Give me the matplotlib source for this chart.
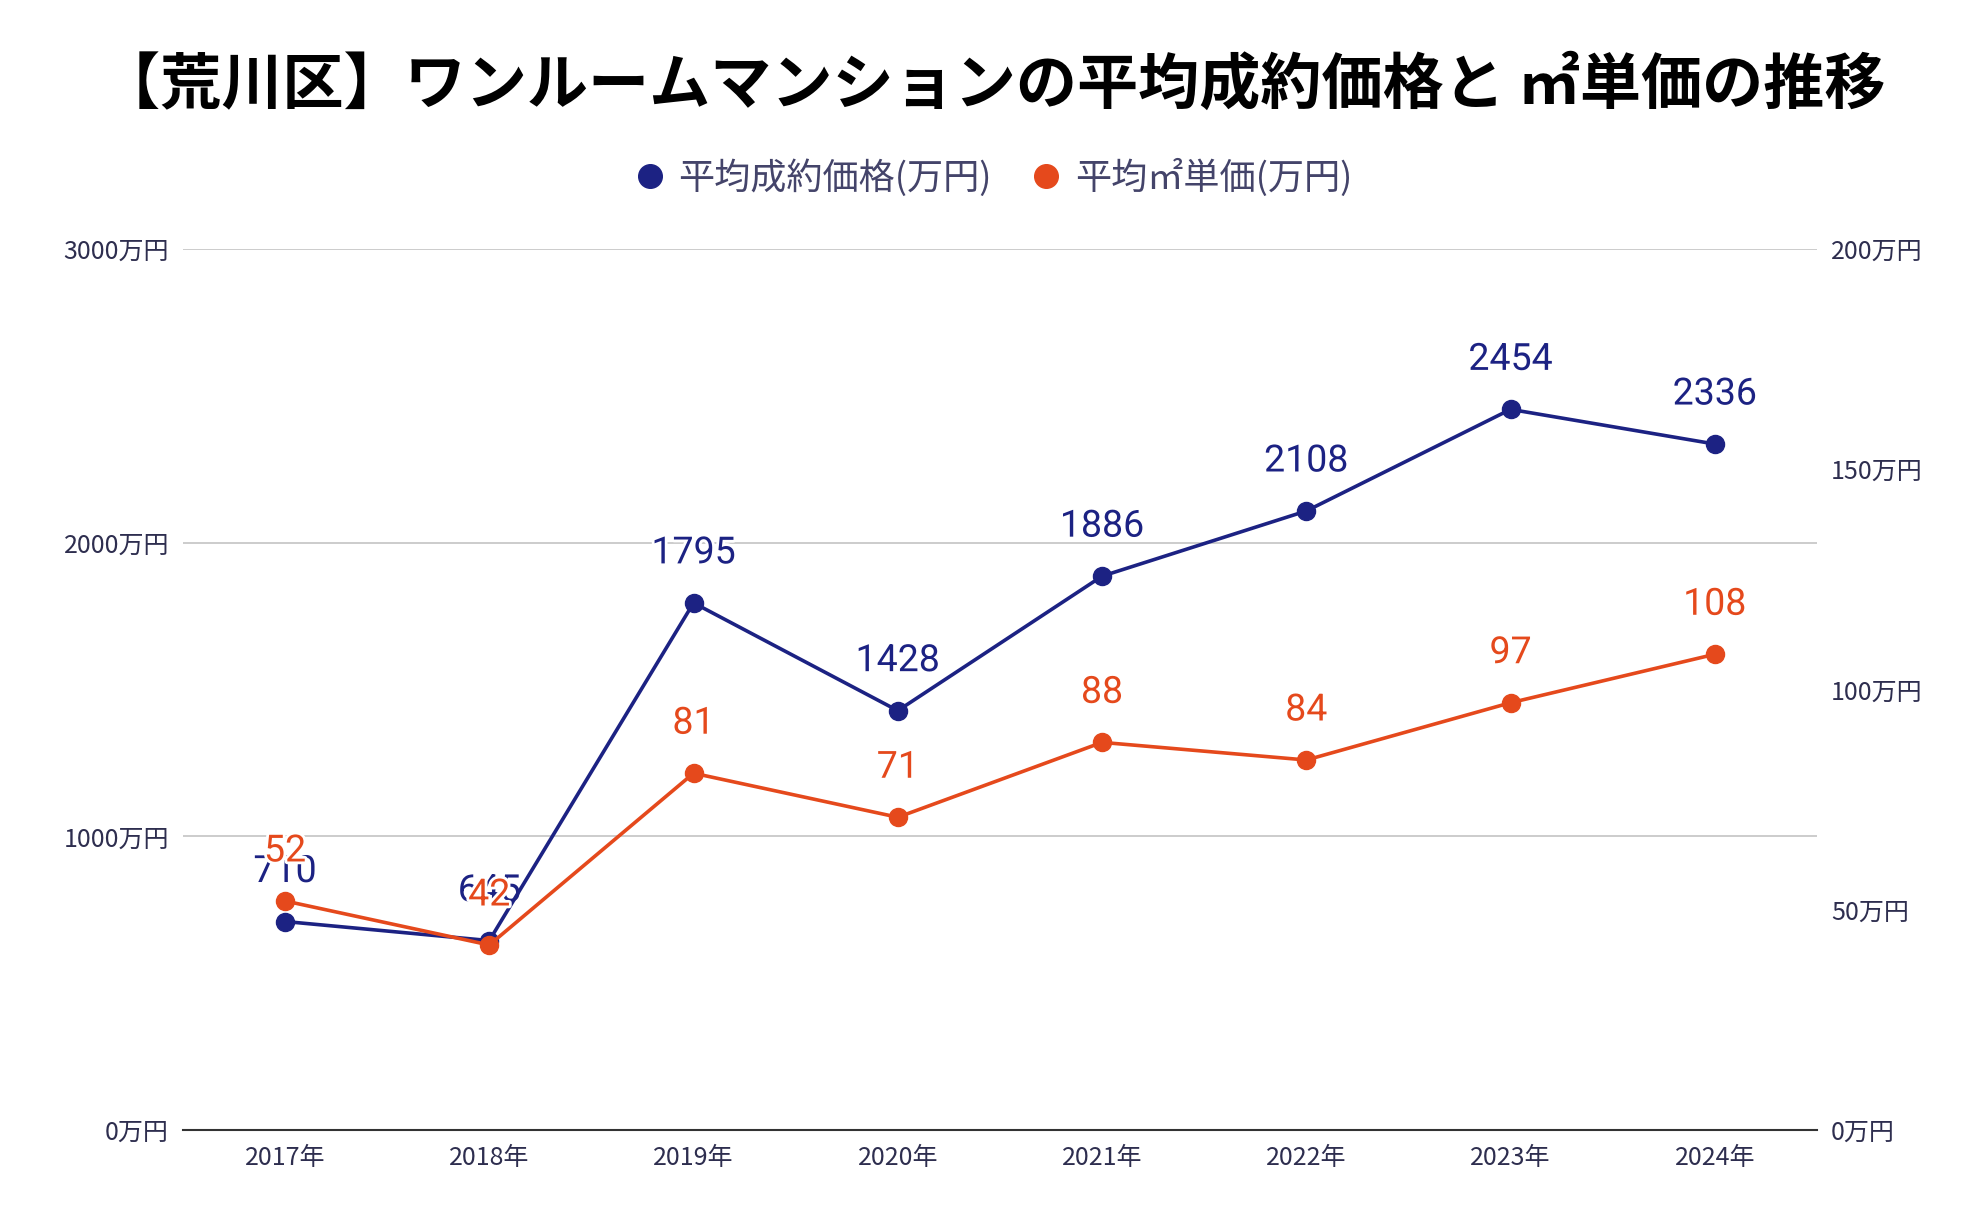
import matplotlib
matplotlib.use("Agg")
from matplotlib import pyplot as plt
import matplotlib.patheffects as pe
from matplotlib.lines import Line2D

plt.rcParams['font.family'] = ['Noto Sans CJK JP', 'DejaVu Sans']

years = ["2017年", "2018年", "2019年", "2020年", "2021年", "2022年", "2023年", "2024年"]
price = [710, 645, 1795, 1428, 1886, 2108, 2454, 2336]
unit_price = [52, 42, 81, 71, 88, 84, 97, 108]
left_ticks = [0, 1000, 2000, 3000]
right_ticks = [0, 50, 100, 150, 200]

blue = '#1c2283'
orange = '#e5491c'
tick_color = '#2e2e4f'

fig = plt.figure(figsize=(19.84, 12.28), dpi=100)
ax = fig.add_axes([0.0922, 0.0798, 0.8236, 0.7174])
ax2 = ax.twinx()

x = list(range(len(years)))

ax.plot(x, price, '-o', color=blue, lw=2.6, ms=13, zorder=3)
ax2.plot(x, unit_price, '-o', color=orange, lw=2.6, ms=13, zorder=3)

stroke = [pe.withStroke(linewidth=4, foreground='white')]
for xi, v in zip(x, price):
    ax.annotate(str(v), xy=(xi, v), xytext=(0, 36), textcoords='offset points',
                ha='center', va='center', fontsize=27, color=blue, family='Roboto',
                path_effects=stroke, zorder=2,
                arrowprops=dict(arrowstyle='-', color='#dddddd', lw=1.2, shrinkA=15, shrinkB=9))
for xi, v in zip(x, unit_price):
    ax2.annotate(str(v), xy=(xi, v), xytext=(0, 36), textcoords='offset points',
                 ha='center', va='center', fontsize=27, color=orange, family='Roboto',
                 path_effects=stroke, zorder=2,
                 arrowprops=dict(arrowstyle='-', color='#dddddd', lw=1.2, shrinkA=15, shrinkB=9))

ax.set_xlim(-0.5, len(years) - 0.5)
ax.set_ylim(0, 3000)
ax2.set_ylim(0, 200)
ax.set_xticks(x)
ax.set_xticklabels(years)
ax.set_yticks(left_ticks)
ax.set_yticklabels([f"{t}万円" for t in left_ticks])
ax2.set_yticks(right_ticks)
ax2.set_yticklabels([f"{t}万円" for t in right_ticks])

for a in (ax, ax2):
    for s in ('left', 'right', 'top'):
        a.spines[s].set_visible(False)
    a.tick_params(length=0, labelsize=18, colors=tick_color)
ax.spines['bottom'].set_color('#333333')
ax.spines['bottom'].set_linewidth(1.5)
ax2.spines['bottom'].set_visible(False)
ax.tick_params(axis='x', pad=11)
ax.tick_params(axis='y', pad=10)
ax2.tick_params(axis='y', pad=10)

ax.yaxis.grid(True, color='#c8c8c8', lw=1.3)
ax.set_axisbelow(True)
ax.set_zorder(2)
ax2.set_zorder(3)
ax.patch.set_visible(False)
ax2.patch.set_visible(False)

fig.text(0.5, 0.93, "【荒川区】ワンルームマンションの平均成約価格と ㎡単価の推移",
         ha='center', va='center', fontsize=44, fontweight='bold', color='black')

handles = [Line2D([], [], ls='none', marker='o', ms=17, color=blue),
           Line2D([], [], ls='none', marker='o', ms=17, color=orange)]
fig.legend(handles, ["平均成約価格(万円)", "平均㎡単価(万円)"], loc='center',
           bbox_to_anchor=(0.5, 0.855), ncol=2, frameon=False, fontsize=26,
           labelcolor='#44446a', handletextpad=0.3, columnspacing=1.0, handlelength=1.0)

fig.savefig('out.png', dpi=100, facecolor='white')
